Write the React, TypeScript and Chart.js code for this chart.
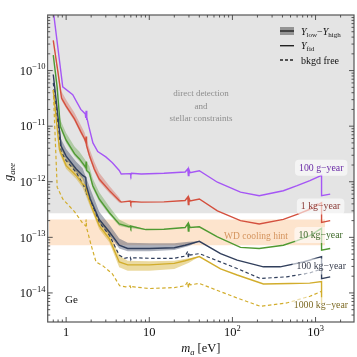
import React, { useEffect, useRef } from "react";
import { Chart, registerables } from "chart.js";

Chart.register(...registerables);

const X_MIN = 0.62;
const X_MAX = 2900;
const Y_MIN = 3.16e-15;
const Y_MAX = 1e-9;

const xMajorTicks = [1, 10, 100, 1000];
const xTickLabels = ["1", "10", "10^2", "10^3"];
const yMajorTicks = [1e-10, 1e-11, 1e-12, 1e-13, 1e-14];
const yTickLabels = ["10^−10", "10^−11", "10^−12", "10^−13", "10^−14"];

// shaded regions
const excludedX = [X_MIN, X_MAX];
const excludedY = [2.7e-13, 2.7e-13];
const wdX = [X_MIN, 1300];
const wdHigh = [2.1e-13, 2.1e-13];
const wdLow = [7.2e-14, 7.2e-14];

// 100 g-year
const purpleX = [0.7, 0.91, 1.2, 1.5, 1.7, 1.72, 1.74, 1.76, 1.78, 1.87, 2.1, 2.4, 3.0, 3.6, 4.35, 4.6, 5.9, 6.0, 6.1, 8, 15, 27, 29, 29.5, 30, 31, 40, 66, 125, 210, 410, 600, 855, 1180, 1181, 1500];
const purpleY = [1.2e-9, 5.1e-11, 3.7e-11, 2.0e-11, 1.66e-11, 1.4e-11, 1.9e-11, 1.3e-11, 1.45e-11, 1.0e-11, 5.0e-12, 3.5e-12, 2.8e-12, 2.2e-12, 1.6e-12, 1.38e-12, 1.4e-12, 1.3e-12, 1.42e-12, 1.38e-12, 1.42e-12, 1.5e-12, 1.7e-12, 1.3e-12, 1.65e-12, 1.45e-12, 1.58e-12, 9.8e-13, 6.5e-13, 5.6e-13, 6.9e-13, 8.5e-13, 1.05e-12, 1.3e-12, 5.6e-13, 6.0e-13];

// 1 kg-year
const redX = [0.7, 0.8, 0.88, 1.0, 1.26, 1.5, 1.66, 1.72, 1.74, 1.76, 1.9, 2.18, 2.5, 3.3, 4.35, 4.6, 5.9, 6.0, 6.1, 8, 15, 27, 29, 29.5, 30, 31, 40, 66, 125, 210, 410, 600, 855, 1180, 1181, 1500];
const redY = [3.5e-10, 9e-11, 3.2e-11, 2.3e-11, 1.35e-11, 8e-12, 6e-12, 5.2e-12, 6.5e-12, 4.5e-12, 3e-12, 1.7e-12, 1.12e-12, 7e-13, 4.6e-13, 4.3e-13, 4.5e-13, 4.1e-13, 4.4e-13, 4.3e-13, 4.35e-13, 4.6e-13, 5.3e-13, 3.9e-13, 5.1e-13, 4.5e-13, 4.9e-13, 3.0e-13, 2.0e-13, 1.74e-13, 2.1e-13, 2.6e-13, 3.2e-13, 4.2e-13, 1.86e-13, 2.0e-13];
const redBandX = [0.7, 0.88, 1.0, 1.26, 1.5, 1.66, 1.9, 2.18, 2.5, 3.3, 4.35, 4.6];
const redBandHigh = [3.5e-10, 4.2e-11, 3.0e-11, 1.75e-11, 1.05e-11, 7.8e-12, 4.0e-12, 2.3e-12, 1.45e-12, 8.5e-13, 5.2e-13, 4.4e-13];
const redBandLow = [3.5e-10, 2.9e-11, 2.1e-11, 1.22e-11, 7.2e-12, 5.4e-12, 2.7e-12, 1.53e-12, 1.0e-12, 6.3e-13, 4.2e-13, 4.2e-13];

// 10 kg-year
const greenX = [0.7, 0.78, 0.85, 1.0, 1.26, 1.44, 1.66, 1.72, 1.74, 1.76, 1.9, 2.09, 2.5, 3.3, 4.35, 5.7, 5.9, 6.0, 6.1, 9.1, 15, 27, 29, 29.5, 30, 31, 40, 66, 125, 210, 410, 600, 855, 1180, 1181, 1500];
const greenY = [1.9e-10, 5e-11, 1.0e-11, 5.6e-12, 3.2e-12, 2.6e-12, 1.95e-12, 1.8e-12, 2.3e-12, 1.6e-12, 1.45e-12, 8.5e-13, 4.9e-13, 2.8e-13, 1.74e-13, 1.55e-13, 1.6e-13, 1.48e-13, 1.58e-13, 1.38e-13, 1.4e-13, 1.5e-13, 1.75e-13, 1.3e-13, 1.7e-13, 1.5e-13, 1.55e-13, 1.02e-13, 6.6e-14, 6.3e-14, 7.2e-14, 8.7e-14, 1.07e-13, 1.45e-13, 5.9e-14, 6.3e-14];
const greenBandX = [0.7, 0.85, 1.0, 1.26, 1.44, 1.66, 1.9, 2.09, 2.5, 3.3, 4.35, 5.7, 9.1];
const greenBandHigh = [1.9e-10, 1.3e-11, 7.5e-12, 4.3e-12, 3.5e-12, 2.6e-12, 1.9e-12, 1.15e-12, 6.5e-13, 3.6e-13, 2.1e-13, 1.7e-13, 1.4e-13];
const greenBandLow = [1.9e-10, 9e-12, 5.0e-12, 2.9e-12, 2.35e-12, 1.75e-12, 1.3e-12, 7.6e-13, 4.4e-13, 2.55e-13, 1.6e-13, 1.48e-13, 1.36e-13];

// 100 kg-year
const navyX = [0.7, 0.78, 0.87, 1.0, 1.32, 1.58, 1.72, 1.75, 1.95, 2.5, 3.3, 4.35, 5.5, 10, 20, 27, 40, 72, 114, 236, 375, 712, 1180, 1181, 1500];
const navyY = [8.5e-11, 2e-11, 4.4e-12, 2.9e-12, 1.7e-12, 1.3e-12, 1.2e-12, 8.5e-13, 4.9e-13, 2.1e-13, 1.26e-13, 7.2e-14, 6.3e-14, 6.3e-14, 6.5e-14, 7.2e-14, 8.5e-14, 5.1e-14, 3.9e-14, 2.95e-14, 2.95e-14, 3.6e-14, 4.5e-14, 1.8e-14, 1.95e-14];
const navyBandX = [0.7, 0.87, 1.0, 1.32, 1.58, 2.0, 2.5, 3.3, 4.35, 5.5, 10, 20, 30, 40];
const navyBandHigh = [8.5e-11, 5.8e-12, 3.9e-12, 2.3e-12, 1.75e-12, 6.8e-13, 2.9e-13, 1.7e-13, 9.5e-14, 8e-14, 7.8e-14, 7.8e-14, 8.3e-14, 8.5e-14];
const navyBandLow = [8.5e-11, 3.9e-12, 2.55e-12, 1.5e-12, 1.15e-12, 4.3e-13, 1.85e-13, 1.1e-13, 6.3e-14, 5.6e-14, 5.6e-14, 5.9e-14, 7.0e-14, 8.5e-14];
const navyFreeX = [0.7, 0.87, 1.0, 1.32, 1.66, 1.72, 1.74, 1.76, 2.0, 2.5, 3.3, 4.35, 5.0, 5.9, 6.0, 6.1, 10, 20, 27, 29, 29.5, 30, 31, 40, 114, 217, 450, 855, 1180];
const navyFreeY = [6e-11, 3.5e-12, 2.4e-12, 1.48e-12, 8e-13, 7e-13, 8.5e-13, 6e-13, 4.3e-13, 1.86e-13, 1.1e-13, 4.8e-14, 4.2e-14, 4.4e-14, 4.0e-14, 4.3e-14, 4.2e-14, 4.2e-14, 4.6e-14, 5.6e-14, 4.2e-14, 5.3e-14, 4.8e-14, 5.1e-14, 2.75e-14, 1.82e-14, 1.95e-14, 2.3e-14, 2.7e-14];

// 1000 kg-year
const goldX = [0.7, 0.83, 1.0, 1.32, 1.58, 1.72, 1.76, 2.0, 2.5, 3.3, 4.35, 5.5, 10, 20, 27, 40, 72, 114, 236, 500, 850, 1180, 1181];
const goldY = [4.5e-11, 3.8e-12, 1.95e-12, 1.3e-12, 9e-13, 8.5e-13, 6.5e-13, 3.7e-13, 1.62e-13, 9.5e-14, 3.6e-14, 3.2e-14, 3.2e-14, 3.4e-14, 3.8e-14, 4.5e-14, 2.7e-14, 2.1e-14, 1.45e-14, 1.48e-14, 1.5e-14, 1.6e-14, 6.5e-15];
const goldBandX = [0.7, 0.83, 1.0, 1.32, 1.58, 2.0, 2.5, 3.3, 4.35, 5.5, 10, 20, 30, 40];
const goldBandHigh = [4.5e-11, 5e-12, 2.6e-12, 1.75e-12, 1.2e-12, 4.9e-13, 2.15e-13, 1.25e-13, 4.7e-14, 3.8e-14, 3.7e-14, 3.8e-14, 4.2e-14, 4.5e-14];
const goldBandLow = [4.5e-11, 3.3e-12, 1.7e-12, 1.12e-12, 7.8e-13, 3.2e-13, 1.4e-13, 8.2e-14, 2.9e-14, 2.5e-14, 2.5e-14, 2.7e-14, 3.5e-14, 4.5e-14];
const goldFreeX = [0.7, 0.78, 0.91, 1.26, 1.58, 1.72, 1.74, 1.76, 2.0, 2.29, 2.75, 3.6, 4.4, 5.2, 5.9, 6.0, 6.1, 10, 20, 27, 29, 29.5, 30, 31, 40, 114, 217, 450, 855, 1180];
const goldFreeY = [4.5e-11, 8e-13, 4.9e-13, 2.9e-13, 1.8e-13, 1.6e-13, 2.1e-13, 1.5e-13, 7.2e-14, 3.6e-14, 3.1e-14, 2.2e-14, 1.35e-14, 1.29e-14, 1.33e-14, 1.22e-14, 1.3e-14, 1.2e-14, 1.25e-14, 1.35e-14, 1.6e-14, 1.2e-14, 1.55e-14, 1.4e-14, 1.48e-14, 8.1e-15, 5.75e-15, 6.6e-15, 8.7e-15, 1.07e-14];

// curve labels: text, anchored x (eV), y (g), colour
const curveLabels = ["100 g−year", "1 kg−year", "10 kg−year", "100 kg−year", "1000 kg−year"];
const curveLabelX = [1170, 1150, 1150, 1170, 1160];
const curveLabelY = [1.78e-12, 3.6e-13, 1.1e-13, 3.0e-14, 6.0e-15];
const curveLabelColors = ["#6a2ca6", "#8a3a36", "#3e6a2a", "#3a3f4e", "#7d6a24"];

const COLORS = {
  purple: "#a556f5",
  red: "#d4503e",
  green: "#4f9a32",
  navy: "#313f5c",
  gold: "#d2ad2c",
};

const SERIF = '"Liberation Serif", "DejaVu Serif", serif';
const fnt = (size: number, italic = false) => `${italic ? "italic " : ""}${size}px ${SERIF}`;

type Part = { t: string; size: number; dy?: number; italic?: boolean };

function richWidth(ctx: CanvasRenderingContext2D, parts: Part[]) {
  let w = 0;
  for (const p of parts) {
    ctx.font = fnt(p.size, p.italic);
    w += ctx.measureText(p.t).width;
  }
  return w;
}

function drawRich(ctx: CanvasRenderingContext2D, parts: Part[], x: number, y: number, align: string, color: string) {
  const w = richWidth(ctx, parts);
  let cx = align === "left" ? x : align === "center" ? x - w / 2 : x - w;
  ctx.fillStyle = color;
  ctx.textAlign = "left";
  ctx.textBaseline = "alphabetic";
  for (const p of parts) {
    ctx.font = fnt(p.size, p.italic);
    ctx.fillText(p.t, cx, y + (p.dy || 0));
    cx += ctx.measureText(p.t).width;
  }
}

function tickParts(label: string, size: number, sup: number): Part[] {
  const [base, exp] = label.split("^");
  const parts: Part[] = [{ t: base, size }];
  if (exp) parts.push({ t: exp, size: sup, dy: -5.5 });
  return parts;
}

const pts = (xs: number[], ys: number[]) => xs.map((x, i) => ({ x, y: ys[i] }));

const decorPlugin = {
  id: "decor",
  afterDatasetsDraw(chart: any) {
    const ctx: CanvasRenderingContext2D = chart.ctx;
    const xs = chart.scales.x;
    const ys = chart.scales.y;
    const a = chart.chartArea;
    ctx.save();
    // region texts
    const gray = "#8e8e8e";
    ["direct detection", "and", "stellar constraints"].forEach((t, i) => {
      ctx.font = fnt(9);
      ctx.fillStyle = gray;
      ctx.textAlign = "center";
      ctx.textBaseline = "middle";
      ctx.fillText(t, 201, 94 + i * 12.5);
    });
    ctx.font = fnt(9.5);
    ctx.fillStyle = "#d4945e";
    ctx.textAlign = "center";
    ctx.textBaseline = "middle";
    ctx.fillText("WD cooling hint", 256, 236);
    ctx.font = fnt(11);
    ctx.fillStyle = "#111";
    ctx.fillText("Ge", 71.5, 300);

    // curve labels with soft boxes
    curveLabels.forEach((t, i) => {
      const px = xs.getPixelForValue(curveLabelX[i]);
      const py = ys.getPixelForValue(curveLabelY[i]);
      ctx.font = fnt(9.8);
      const w = ctx.measureText(t).width;
      ctx.fillStyle = "rgba(255,255,255,0.6)";
      ctx.beginPath();
      (ctx as any).roundRect(px - w / 2 - 4, py - 8, w + 8, 16, 4);
      ctx.fill();
      ctx.fillStyle = curveLabelColors[i];
      ctx.textAlign = "center";
      ctx.textBaseline = "middle";
      ctx.fillText(t, px, py + 0.5);
    });

    // legend
    const lx0 = 280, lx1 = 294, tx = 301;
    ctx.fillStyle = "rgba(0,0,0,0.35)";
    ctx.fillRect(lx0, 27, lx1 - lx0, 8);
    ctx.strokeStyle = "#222";
    ctx.lineWidth = 1.4;
    ctx.beginPath(); ctx.moveTo(lx0, 31); ctx.lineTo(lx1, 31); ctx.stroke();
    ctx.beginPath(); ctx.moveTo(lx0, 45.7); ctx.lineTo(lx1, 45.7); ctx.stroke();
    ctx.setLineDash([3, 2]);
    ctx.beginPath(); ctx.moveTo(lx0, 60); ctx.lineTo(lx1, 60); ctx.stroke();
    ctx.setLineDash([]);
    drawRich(ctx, [
      { t: "Y", size: 10, italic: true },
      { t: "low", size: 7, dy: 2 },
      { t: "−", size: 10 },
      { t: "Y", size: 10, italic: true },
      { t: "high", size: 7, dy: 2 },
    ], tx, 34.5, "left", "#111");
    drawRich(ctx, [
      { t: "Y", size: 10, italic: true },
      { t: "fid", size: 7, dy: 2 },
    ], tx, 49, "left", "#111");
    drawRich(ctx, [{ t: "bkgd free", size: 10 }], tx, 63.5, "left", "#111");

    // frame
    ctx.strokeStyle = "#555";
    ctx.lineWidth = 1.2;
    ctx.strokeRect(a.left, a.top, a.right - a.left, a.bottom - a.top);

    // ticks
    ctx.lineWidth = 0.9;
    ctx.strokeStyle = "#444";
    const xTick = (v: number, len: number) => {
      const p = xs.getPixelForValue(v);
      if (p < a.left + 1 || p > a.right - 1) return;
      ctx.beginPath();
      ctx.moveTo(p, a.bottom); ctx.lineTo(p, a.bottom - len);
      ctx.moveTo(p, a.top); ctx.lineTo(p, a.top + len);
      ctx.stroke();
    };
    const yTick = (v: number, len: number) => {
      const p = ys.getPixelForValue(v);
      if (p < a.top + 1 || p > a.bottom - 1) return;
      ctx.beginPath();
      ctx.moveTo(a.left, p); ctx.lineTo(a.left + len, p);
      ctx.moveTo(a.right, p); ctx.lineTo(a.right - len, p);
      ctx.stroke();
    };
    for (let e = -1; e <= 3; e++) {
      for (let m = 1; m <= 9; m++) {
        const v = m * Math.pow(10, e);
        xTick(v, m === 1 ? 5 : 2.5);
      }
    }
    for (let e = -15; e <= -10; e++) {
      for (let m = 1; m <= 9; m++) {
        const v = m * Math.pow(10, e);
        yTick(v, m === 1 ? 5 : 2.5);
      }
    }

    // tick labels
    xMajorTicks.forEach((v, i) => {
      const p = xs.getPixelForValue(v);
      drawRich(ctx, tickParts(xTickLabels[i], 12.5, 8.5), p, 336, "center", "#111");
    });
    yMajorTicks.forEach((v, i) => {
      const p = ys.getPixelForValue(v);
      drawRich(ctx, tickParts(yTickLabels[i], 12.5, 8.5), 45.5, p + 4.3, "right", "#111");
    });

    // axis titles
    drawRich(ctx, [
      { t: "m", size: 12.5, italic: true },
      { t: "a", size: 8.5, dy: 2.5, italic: true },
      { t: " [eV]", size: 12.5 },
    ], (a.left + a.right) / 2, 352, "center", "#111");
    ctx.save();
    ctx.translate(12, 172);
    ctx.rotate(-Math.PI / 2);
    drawRich(ctx, [
      { t: "g", size: 12.5, italic: true },
      { t: "aee", size: 8.5, dy: 2.5, italic: true },
    ], 0, 0, "center", "#111");
    ctx.restore();

    ctx.restore();
  },
};

function line(data: any[], color: string, dashed = false, order = 5) {
  return {
    data,
    borderColor: color,
    borderWidth: dashed ? 1.2 : 1.4,
    borderDash: dashed ? [3.5, 2.5] : [],
    pointRadius: 0,
    fill: false,
    order,
  };
}

function bandPair(xs: number[], hi: number[], lo: number[], fillColor: string, order = 40) {
  return [
    { data: pts(xs, hi), borderWidth: 0, borderColor: "rgba(0,0,0,0)", pointRadius: 0, fill: false, order },
    { data: pts(xs, lo), borderWidth: 0, borderColor: "rgba(0,0,0,0)", pointRadius: 0, fill: "-1", backgroundColor: fillColor, order },
  ];
}

export default function App() {
  const ref = useRef<HTMLCanvasElement | null>(null);
  useEffect(() => {
    if (!ref.current) return;
    const datasets: any[] = [
      line(pts(purpleX, purpleY), COLORS.purple, false, 1),
      line(pts(redX, redY), COLORS.red, false, 1),
      line(pts(greenX, greenY), COLORS.green, false, 1),
      line(pts(navyX, navyY), COLORS.navy, false, 1),
      line(pts(navyFreeX, navyFreeY), COLORS.navy, true, 2),
      line(pts(goldX, goldY), COLORS.gold, false, 1),
      line(pts(goldFreeX, goldFreeY), COLORS.gold, true, 2),
      ...bandPair(redBandX, redBandHigh, redBandLow, "rgba(212,80,62,0.35)", 40),
      ...bandPair(greenBandX, greenBandHigh, greenBandLow, "rgba(79,154,50,0.35)", 41),
      ...bandPair(navyBandX, navyBandHigh, navyBandLow, "rgba(49,63,92,0.4)", 42),
      ...bandPair(goldBandX, goldBandHigh, goldBandLow, "rgba(210,173,44,0.45)", 43),
      {
        data: pts(excludedX, excludedY),
        borderWidth: 0, borderColor: "rgba(0,0,0,0)", pointRadius: 0,
        fill: "end", backgroundColor: "#e4e4e4", order: 100,
      },
      ...bandPair(wdX, wdHigh, wdLow, "#fde4cd", 90),
    ];
    const chart = new Chart(ref.current, {
      type: "line",
      data: { datasets },
      options: {
        animation: false,
        responsive: false,
        devicePixelRatio: 1,
        parsing: false as any,
        normalized: true,
        layout: { padding: { left: 47.7, right: 3, top: 15, bottom: 35 } },
        elements: { line: { tension: 0 }, point: { radius: 0 } },
        scales: {
          x: { type: "logarithmic", min: X_MIN, max: X_MAX, display: false },
          y: { type: "logarithmic", min: Y_MIN, max: Y_MAX, display: false },
        },
        plugins: {
          legend: { display: false },
          tooltip: { enabled: false },
          filler: { propagate: false },
        },
      } as any,
      plugins: [decorPlugin],
    });
    return () => chart.destroy();
  }, []);
  return (
    <div style={{ position: "absolute", left: 0, top: 0, width: 357, height: 357, background: "#fff" }}>
      <canvas ref={ref} width={357} height={357} style={{ display: "block" }} />
    </div>
  );
}
